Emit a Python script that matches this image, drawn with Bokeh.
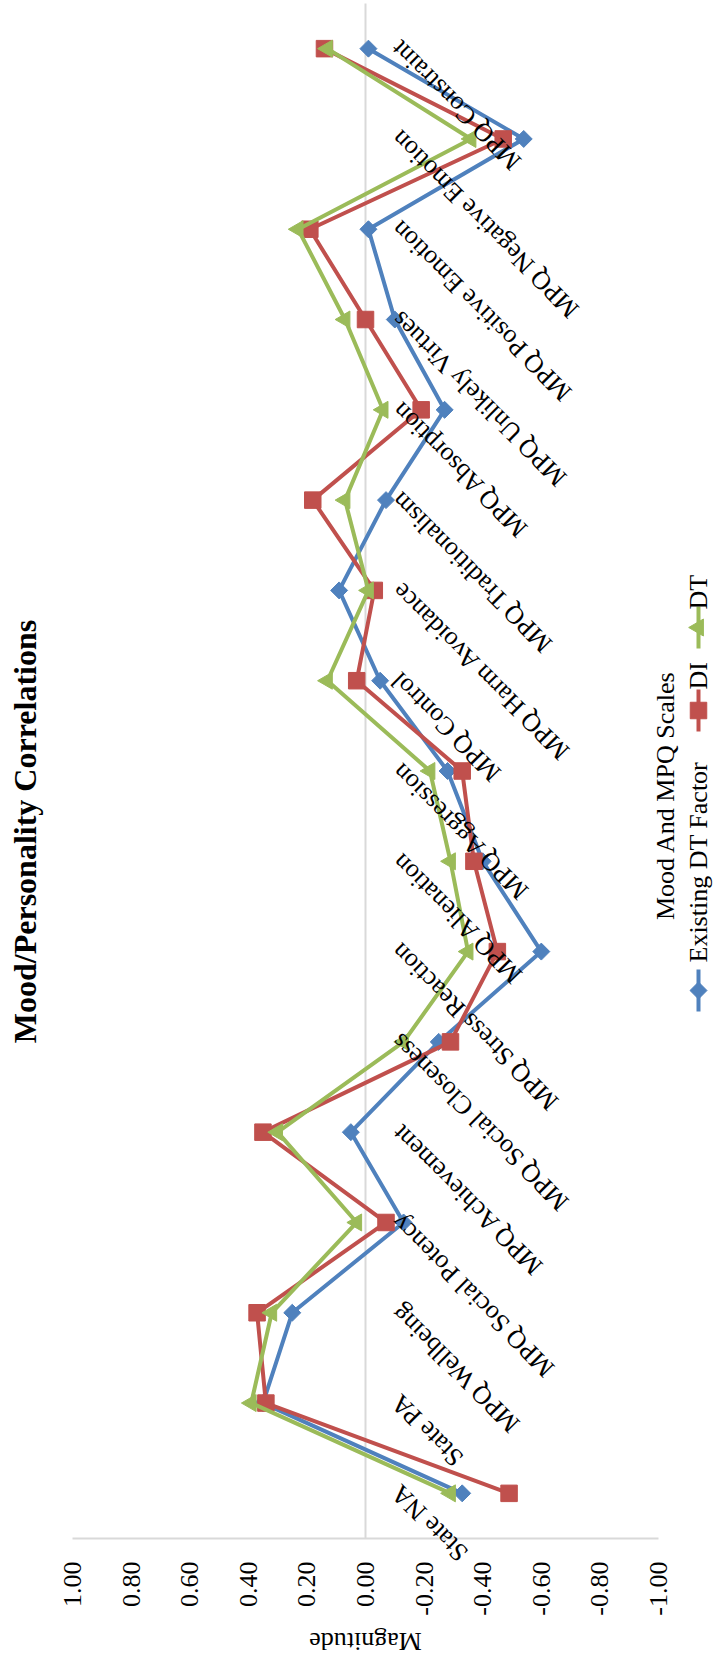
import math

from bokeh.core.properties import value
from bokeh.embed import file_html
from bokeh.models import ColumnDataSource, Range1d
from bokeh.plotting import figure
from bokeh.resources import INLINE

# ---------------------------------------------------------------- data
categories = [
    "State NA", "State PA", "MPQ Wellbeing", "MPQ Social Potency",
    "MPQ Achievement", "MPQ Social Closeness", "MPQ Stress Reaction",
    "MPQ Alienation", "MPQ Aggression", "MPQ Control",
    "MPQ Harm Avoidance", "MPQ Traditionalism", "MPQ Absorption",
    "MPQ Unlikely Virtues", "MPQ Positive Emotion",
    "MPQ Negative Emotion", "MPQ Constraint",
]
existing_dt_factor = [-0.33, 0.35, 0.25, -0.13, 0.05, -0.25, -0.60, -0.40,
                      -0.28, -0.05, 0.09, -0.07, -0.27, -0.10, -0.01, -0.54,
                      -0.01]
di = [-0.49, 0.34, 0.37, -0.07, 0.35, -0.29, -0.45, -0.37, -0.33, 0.03,
      -0.03, 0.18, -0.19, 0.00, 0.19, -0.47, 0.14]
dt = [-0.29, 0.39, 0.32, 0.03, 0.30, -0.13, -0.35, -0.29, -0.22, 0.13,
      -0.01, 0.07, -0.06, 0.07, 0.23, -0.36, 0.13]
series_names = ["Existing DT Factor", "DI", "DT"]
tick_values = [1.0, 0.8, 0.6, 0.4, 0.2, 0.0, -0.2, -0.4, -0.6, -0.8, -1.0]
tick_labels = [f"{v:.2f}" for v in tick_values]

title_text = "Mood/Personality Correlations"
value_axis_title = "Magnitude"
category_axis_title = "Mood And MPQ Scales"

# ---------------------------------------------------------------- layout
# The chart is laid out turned on its side: magnitude runs from 1.00 on
# the left to -1.00 on the right, categories run from bottom to top.
# The data frame covers the whole canvas so every text can sit anywhere.
W, H = 715, 1661
PLOT_L, PLOT_R = 72, 658          # pixel columns of 1.00 and -1.00
PLOT_T, PLOT_B = 3, 1538          # top edge and value-axis line
PX_PER_UNIT = (PLOT_R - PLOT_L) / 2.0
N = len(categories)
PX_PER_CAT = (PLOT_B - PLOT_T) / N

X_START = 1.0 + PLOT_L / PX_PER_UNIT
X_END = -1.0 - (W - PLOT_R) / PX_PER_UNIT
Y_HI = (N - 0.5) + PLOT_T / PX_PER_CAT
Y_LO = -0.5 - (H - PLOT_B) / PX_PER_CAT

FONT = "Liberation Serif"
BLUE, RED, GREEN = "#4F81BD", "#C0504D", "#9BBB59"
GRID = "#d9d9d9"


def px_x(px):
    """Horizontal pixel position -> magnitude coordinate."""
    return 1.0 - (px - PLOT_L) / PX_PER_UNIT


def px_y(py):
    """Vertical pixel position -> category coordinate."""
    return (N - 0.5) - (py - PLOT_T) / PX_PER_CAT


p = figure(
    width=W, height=H,
    x_range=Range1d(X_START, X_END), y_range=Range1d(Y_LO, Y_HI),
    x_axis_type=None, y_axis_type=None,
    min_border_left=0, min_border_right=0, min_border_top=0,
    min_border_bottom=0,
    output_backend="svg", toolbar_location=None,
)
p.outline_line_color = None
p.background_fill_color = "white"
p.border_fill_color = "white"
p.xgrid.visible = False
p.ygrid.visible = False

# value-axis line and the category line at zero
y_line = px_y(PLOT_B)
p.segment(x0=[1.0], y0=[y_line], x1=[-1.0], y1=[y_line],
          line_color=GRID, line_width=2)
p.segment(x0=[0.0], y0=[y_line], x1=[0.0], y1=[px_y(PLOT_T)],
          line_color=GRID, line_width=2)

# value-axis tick labels, reading upward, hanging below the axis line
tick_src = ColumnDataSource(dict(x=tick_values,
                                 y=[px_y(1561)] * len(tick_values),
                                 text=tick_labels))
p.text("x", "y", text="text", source=tick_src, angle=math.pi / 2,
       text_align="right", text_baseline="middle", text_font=value(FONT),
       text_font_size="26px", text_color="black")
p.text(x=[0.0], y=[px_y(1641)], text=[value_axis_title], angle=math.pi,
       text_align="center", text_baseline="middle", text_font=value(FONT),
       text_font_size="26px", text_color="black")

# ---------------------------------------------------------------- series
ys = list(range(N))
styles = [
    (existing_dt_factor, BLUE, dict(marker="square", angle=math.pi / 4, size=12)),
    (di, RED, dict(marker="square", angle=0.0, size=16.5)),
    (dt, GREEN, dict(marker="triangle", angle=math.pi / 2, size=17)),
]
for vals, color, mk in styles:
    src = ColumnDataSource(dict(x=vals, y=ys))
    p.line("x", "y", source=src, line_color=color, line_width=4,
           line_join="round")
    p.scatter("x", "y", source=src, fill_color=color, line_color=color,
              line_width=1, **mk)

# category names hanging off the zero line
cat_src = ColumnDataSource(dict(x=[0.0] * N, y=ys, text=categories))
p.text("x", "y", text="text", source=cat_src, angle=3 * math.pi / 4,
       x_offset=30, y_offset=-4, text_align="right", text_baseline="middle",
       text_font=value(FONT), text_font_size="26px", text_color="black")

# ---------------------------------------------------------------- titles
p.text(x=[px_x(24)], y=[px_y(831)], text=[title_text], angle=math.pi / 2,
       text_align="center", text_baseline="middle", text_font=value(FONT),
       text_font_size="32px", text_font_style="bold", text_color="black")
p.text(x=[px_x(665)], y=[px_y(795)], text=[category_axis_title],
       angle=math.pi / 2, text_align="center", text_baseline="middle",
       text_font=value(FONT), text_font_size="26px", text_color="black")

# ---------------------------------------------------------------- legend
LEG_X = px_x(698)
legend_rows = [  # (marker centre px, text start px)
    (990, 962),
    (710, 689),
    (627, 609),
]
for (vals, color, mk), name, (mpx, tpx) in zip(styles, series_names,
                                               legend_rows):
    p.line([LEG_X, LEG_X], [px_y(mpx + 21), px_y(mpx - 21)],
           line_color=color, line_width=4)
    p.scatter([LEG_X], [px_y(mpx)], fill_color=color, line_color=color,
              line_width=1, **mk)
    p.text(x=[LEG_X], y=[px_y(tpx)], text=[name], angle=math.pi / 2,
           text_align="left", text_baseline="middle",
           text_font=value(FONT), text_font_size="26px", text_color="black")

open("out.html", "w").write(file_html(p, INLINE))
